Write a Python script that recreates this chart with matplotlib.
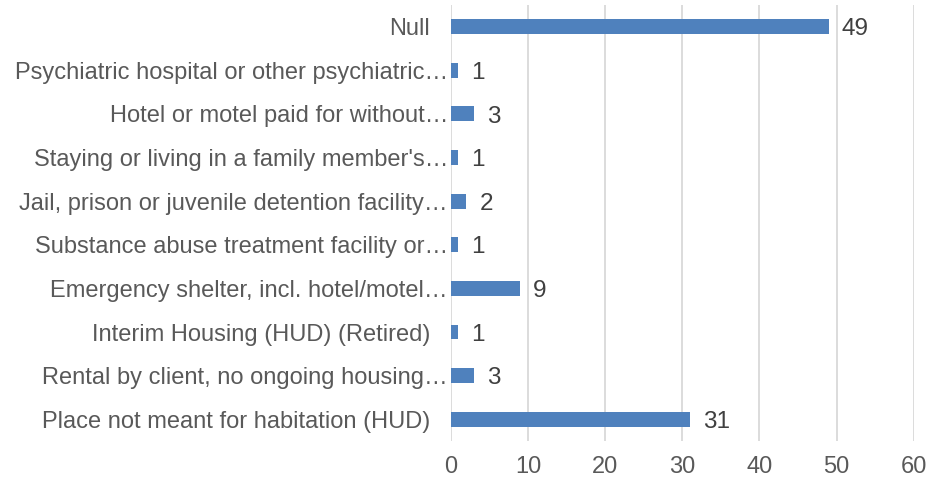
import matplotlib.pyplot as plt
import numpy as np

# categories listed top to bottom, as shown on the chart
categories = [
    "Null",
    "Psychiatric hospital or other psychiatric\u2026",
    "Hotel or motel paid for without\u2026",
    "Staying or living in a family member's\u2026",
    "Jail, prison or juvenile detention facility\u2026",
    "Substance abuse treatment facility or\u2026",
    "Emergency shelter, incl. hotel/motel\u2026",
    "Interim Housing (HUD) (Retired)",
    "Rental by client, no ongoing housing\u2026",
    "Place not meant for habitation (HUD)",
]
counts = [49, 1, 3, 1, 2, 1, 9, 1, 3, 31]
xticks = [0, 10, 20, 30, 40, 50, 60]

plt.rcParams['font.family'] = ['Liberation Sans', 'DejaVu Sans']
text_col = '#595959'

fig = plt.figure(figsize=(9.43, 4.79), dpi=100)
ax = fig.add_axes([0.478, 0.079, 0.491, 0.911])

y = np.arange(len(categories))
ax.barh(y, counts, height=0.34, color='#4f81bd', zorder=3)
for yi, v in zip(y, counts):
    ax.text(v + 1.7, yi + 0.06, str(v), va='center', ha='left', fontsize=17.5, color='#404040')

ax.set_yticks(y)
ax.set_yticklabels(categories)
ax.set_ylim(len(categories) - 0.5, -0.5)
ax.set_xlim(0, 60)
ax.set_xticks(xticks)

ax.grid(axis='x', color='#d9d9d9', linewidth=1.3, zorder=0)
for s in ax.spines.values():
    s.set_visible(False)
ax.tick_params(axis='both', length=0, labelsize=17, labelcolor=text_col)
ax.tick_params(axis='x', pad=11)
# truncated labels run closer to the axis
for tick, lab in zip(ax.yaxis.get_major_ticks(), categories):
    tick.set_pad(2 if lab.endswith('\u2026') else 15)

fig.savefig('out.png', dpi=100)
